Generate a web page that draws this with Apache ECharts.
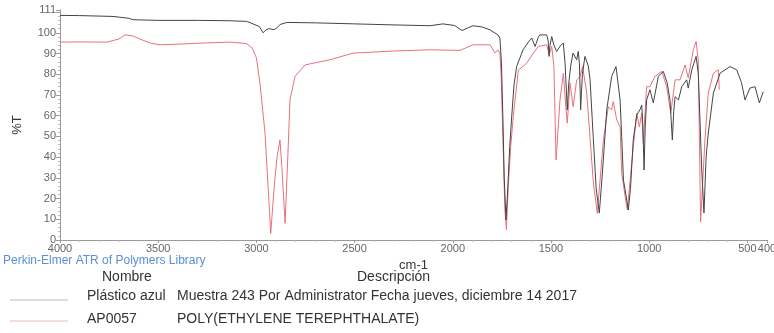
<!DOCTYPE html>
<html>
<head>
<meta charset="utf-8">
<script src="https://cdn.jsdelivr.net/npm/echarts@6/dist/echarts.min.js"></script>
<style>
  html, body { margin: 0; padding: 0; background: #fff; }
  #chart { width: 774px; height: 333px; }
</style>
</head>
<body>
<div id="chart"></div>
<script>
// muestra (Plástico azul), [cm-1, %T]
const muestraData = [
  [4000, 108.4], [3900, 108.3], [3730, 107.9], [3650, 107], [3628, 106.3], [3500, 106], [3300, 106],
  [3134, 105.8], [3050, 105.5], [3043, 106], [3022, 104.5], [2985, 103], [2966, 100], [2950, 101.5],
  [2935, 102], [2910, 101.5], [2895, 102.4], [2880, 104], [2844, 105], [2700, 104.8], [2500, 104.3],
  [2300, 103.8], [2116, 103.4], [2050, 104.3], [1990, 103.5], [1953, 101.1], [1920, 102.5], [1897, 103.4],
  [1850, 102.8], [1810, 101.4], [1770, 99], [1760, 97.5], [1752, 85], [1745, 60], [1738, 30], [1729, 9.7],
  [1720, 25], [1710, 45], [1700, 59.5], [1688, 75], [1675, 83.7], [1642, 91.8], [1615, 95.5], [1598, 97.5],
  [1581, 93.4], [1564, 98], [1556, 99], [1522, 99], [1514, 96], [1510, 88.6], [1505, 94], [1496, 98.2],
  [1485, 94], [1471, 91], [1450, 94], [1437, 95], [1428, 85], [1417, 62.8], [1410, 75], [1400, 83.7],
  [1388, 90.2], [1369, 87], [1361, 91], [1355, 85], [1349, 62.8], [1340, 80], [1327, 88.6], [1310, 84],
  [1301, 77.3], [1285, 50], [1270, 25], [1254, 13], [1240, 30], [1216, 62.8], [1191, 79], [1184, 79],
  [1169, 83.7], [1148, 67.6], [1140, 50], [1131, 29], [1106, 14.5], [1095, 25], [1081, 48.3], [1063, 60.4],
  [1047, 62.8], [1038, 65.2], [1032, 55], [1026, 33.8], [1020, 55], [1013, 67.6], [996, 72.5], [979, 66.2],
  [953, 79], [928, 81.4], [908, 75.7], [894, 67.6], [882, 48.3], [875, 62], [868, 69.2], [851, 67.6],
  [834, 74], [809, 77.3], [801, 73.3], [783, 82.1], [761, 88.6], [750, 80.5], [742, 60], [733, 35.3],
  [721, 13], [710, 40], [699, 51.6], [673, 70.9], [639, 80.5], [588, 83.7], [554, 82.1], [530, 76],
  [512, 67.6], [487, 73.3], [461, 74], [439, 66.2], [419, 71.6]
];

// referencia de biblioteca (AP0057)
const referenciaData = [
  [4000, 95.5], [3900, 95.6], [3761, 95.5], [3700, 97], [3669, 99], [3630, 98.5], [3593, 97], [3540, 95],
  [3491, 94.2], [3400, 94.5], [3287, 95], [3134, 95.5], [3050, 94.8], [3022, 92.7], [3000, 88], [2982, 75.8],
  [2956, 51.6], [2940, 25], [2927, 3.2], [2910, 25], [2895, 40], [2880, 48.3], [2870, 35], [2854, 8],
  [2840, 40], [2829, 67.6], [2803, 79], [2752, 84.5], [2676, 86], [2625, 87], [2508, 90.2], [2300, 91.2],
  [2116, 91.8], [1963, 91.5], [1897, 94.2], [1810, 94.2], [1800, 93.5], [1785, 90.3], [1770, 91.8],
  [1760, 90], [1754, 80], [1745, 50], [1735, 15], [1727, 5], [1718, 25], [1705, 45], [1692, 59.5],
  [1666, 82], [1624, 85.3], [1590, 90.2], [1564, 93.4], [1522, 94.2], [1509, 89.4], [1496, 93.4],
  [1485, 83.7], [1474, 38.6], [1454, 67.6], [1437, 80.5], [1423, 62.8], [1417, 56.4], [1403, 75.8],
  [1387, 64.3], [1369, 77.3], [1352, 78.9], [1339, 83.7], [1318, 71], [1284, 27.5], [1264, 12.9],
  [1233, 48.3], [1208, 64.3], [1191, 62.8], [1183, 66.8], [1174, 67.6], [1165, 58], [1148, 54.6],
  [1140, 32.2], [1114, 16], [1111, 14.5], [1081, 45], [1063, 61.2], [1050, 54.6], [1038, 61.2],
  [1030, 46.7], [1013, 74], [996, 74], [970, 79], [936, 81.4], [911, 74], [890, 61.2], [868, 77.3],
  [843, 77.3], [817, 84.5], [801, 78.2], [775, 91.8], [761, 95.8], [750, 87], [738, 8.8], [716, 48.3],
  [699, 70.9], [673, 80.5], [648, 82.1], [643, 72.5]
];

const seriesNames = ['Plástico azul', 'AP0057'];
const descripciones = [
  'Muestra 243 Por Administrator Fecha jueves, diciembre 14 2017',
  'POLY(ETHYLENE TEREPHTHALATE)'
];

const chart = echarts.init(document.getElementById('chart'));
const font = '"Liberation Sans", Arial, sans-serif';
const axisGrey = '#9a9a9a';
const labelStyle = { color: '#666', fontSize: 11, fontFamily: font };

chart.setOption({
  animation: false,
  grid: { left: 60, right: 7, top: 10, bottom: 93, outerBoundsMode: 'none' },
  xAxis: {
    type: 'value',
    inverse: true,
    min: 400,
    max: 4000,
    splitNumber: 7,
    name: 'cm-1',
    nameLocation: 'middle',
    nameGap: 15,
    nameTextStyle: { color: '#333', fontSize: 13, fontFamily: font },
    axisLine: { lineStyle: { color: axisGrey } },
    axisTick: { length: 3, lineStyle: { color: axisGrey } },
    minorTick: { show: true, splitNumber: 5, length: 2, lineStyle: { color: '#bbb' } },
    axisLabel: {
      ...labelStyle,
      margin: 3,
      showMinLabel: true,
      showMaxLabel: true,
      formatter: v => String(v)
    },
    splitLine: { show: false }
  },
  yAxis: {
    type: 'value',
    min: 0,
    max: 111,
    interval: 10,
    name: '%T',
    nameLocation: 'middle',
    nameRotate: 90,
    nameGap: 36,
    nameTextStyle: { color: '#333', fontSize: 13, fontFamily: font },
    axisLine: { show: true, lineStyle: { color: axisGrey } },
    axisTick: { show: true, length: 4, lineStyle: { color: axisGrey } },
    minorTick: { show: true, splitNumber: 5, length: 2, lineStyle: { color: '#bbb' } },
    axisLabel: {
      ...labelStyle,
      margin: 4,
      showMaxLabel: true,
      formatter: v => (v === 110 ? '' : String(v))
    },
    splitLine: { show: false }
  },
  series: [
    {
      name: seriesNames[0],
      type: 'line',
      data: muestraData,
      showSymbol: false,
      lineStyle: { color: '#444', width: 1 },
      z: 3
    },
    {
      name: seriesNames[1],
      type: 'line',
      data: referenciaData,
      showSymbol: false,
      lineStyle: { color: '#e8707c', width: 1 },
      z: 2
    }
  ],
  graphic: [
    { type: 'text', left: 3, top: 255, style: { text: 'Perkin-Elmer ATR of Polymers Library', fill: '#5b8fd8', font: '12px ' + font } },
    { type: 'text', left: 102, top: 270, style: { text: 'Nombre', fill: '#333', font: '14px ' + font } },
    { type: 'text', left: 357, top: 270, style: { text: 'Descripción', fill: '#333', font: '14px ' + font } },
    { type: 'line', shape: { x1: 10, y1: 300, x2: 68, y2: 300 }, style: { stroke: '#bdbdbd', lineWidth: 1 } },
    { type: 'text', left: 87, top: 289, style: { text: seriesNames[0], fill: '#333', font: '14px ' + font } },
    { type: 'text', left: 177, top: 289, style: { text: descripciones[0], fill: '#333', font: '14px ' + font } },
    { type: 'line', shape: { x1: 10, y1: 321, x2: 68, y2: 321 }, style: { stroke: '#f2b8b8', lineWidth: 1 } },
    { type: 'text', left: 87, top: 312, style: { text: seriesNames[1], fill: '#333', font: '14px ' + font } },
    { type: 'text', left: 177, top: 312, style: { text: descripciones[1], fill: '#333', font: '14px ' + font } }
  ]
});
</script>
</body>
</html>
